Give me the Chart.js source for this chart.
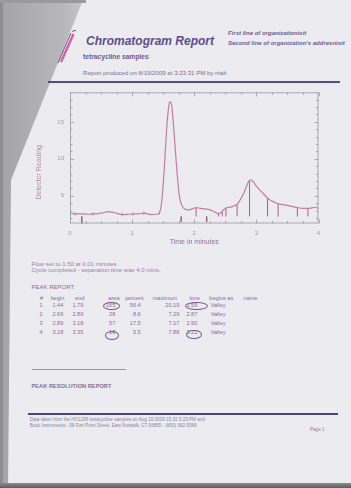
<!DOCTYPE html>
<html>
<head>
<meta charset="utf-8">
<script src="https://cdn.jsdelivr.net/npm/chart.js@4/dist/chart.umd.min.js"></script>
<style>
  html, body { margin: 0; padding: 0; }
  body { width: 351px; height: 488px; overflow: hidden; background: #ecebef; font-family: "Liberation Sans", Arial, sans-serif; }
  #page { position: relative; width: 351px; height: 488px; }
  #chartBox { position: absolute; left: 0; top: 0; width: 351px; height: 488px; }
  .t { position: absolute; white-space: nowrap; line-height: 1; transform: translate(0, -50%); }
  .r { transform: translate(-100%, -50%); }
  .ring { position: absolute; border: 1px solid #7a5c90; border-radius: 50%; box-sizing: border-box; }
  .tbl { font-size: 5.6px; color: #8a6c9c; }
</style>
</head>
<body>
<div id="page">
  <svg width="351" height="488" style="position:absolute;left:0;top:0">
    <defs>
      <linearGradient id="fold" x1="0" y1="0" x2="1" y2="0">
        <stop offset="0" stop-color="#a4a4a6"/>
        <stop offset="0.8" stop-color="#b9b9bb"/>
        <stop offset="1" stop-color="#c6c6c8"/>
      </linearGradient>
    </defs>
    <polygon points="0,0 83,0 11,180 8,488 0,488" fill="url(#fold)"/>
    <rect x="0" y="0" width="3" height="488" fill="#8e8e90"/>
    <rect x="0" y="0" width="86" height="3" fill="#9a9a9c"/>
    <!-- logo: test tube -->
    <line x1="58" y1="63" x2="71" y2="33" stroke="#6a4c9a" stroke-width="1"/>
    <line x1="61" y1="62" x2="73.5" y2="34" stroke="#d2609c" stroke-width="2.4"/>
    <path d="M72 32 q2 -3 4 -1" stroke="#6a4c9a" stroke-width="1" fill="none"/>
  </svg>

  <div class="t" style="left:86px;top:40.5px;font-size:12px;font-weight:bold;font-style:italic;color:#5b4e8e">Chromatogram Report</div>
  <div class="t" style="left:228px;top:32.5px;font-size:6px;font-weight:bold;font-style:italic;color:#6c5c98">First line of organizationisit</div>
  <div class="t" style="left:228px;top:43.3px;font-size:6px;font-weight:bold;font-style:italic;color:#6c5c98">Second line of organization's addresnisit</div>
  <div class="t" style="left:83px;top:57.3px;font-size:6.7px;font-weight:bold;color:#6a5b8c">tetracycline samples</div>
  <div class="t" style="left:83px;top:73.3px;font-size:6.1px;color:#7d6e98">Report produced on 8/19/2009 at 3:23:31 PM by nialt</div>
  <div style="position:absolute;left:48px;top:81px;width:292px;height:2px;background:#4f4d88"></div>

  <div class="t" style="left:31.5px;top:264.3px;font-size:6px;color:#a27cb0">Flow set to 1.50 at 0.01 minutes</div>
  <div class="t" style="left:31.5px;top:270.4px;font-size:6px;color:#a27cb0">Cycle completed - separation time was 4.0 mins.</div>
  <div class="t" style="left:31.5px;top:287.3px;font-size:6px;color:#8d6c9d">PEAK REPORT</div>

  <div id="peakTable"></div>

  <div class="ring" style="left:102.7px;top:301.7px;width:17.3px;height:8.7px"></div>
  <div class="ring" style="left:185px;top:301.7px;width:23.3px;height:8.5px"></div>
  <div class="ring" style="left:105px;top:331px;width:14.3px;height:9px"></div>
  <div class="ring" style="left:185.7px;top:330px;width:16px;height:9.3px"></div>

  <div style="position:absolute;left:32px;top:369px;width:94px;height:1px;background:#9a98a0"></div>
  <div class="t" style="left:31.5px;top:387.3px;font-size:5.7px;font-weight:bold;color:#86709a">PEAK RESOLUTION REPORT</div>
  <div style="position:absolute;left:28px;top:413px;width:310px;height:2px;background:#4b4280"></div>
  <div class="t" style="left:29.7px;top:420px;font-size:4.6px;color:#8d86a0">Data taken from the HO1/2M tetracycline samples on Aug 19 2009 15:32 3:23 PM and</div>
  <div class="t" style="left:29.7px;top:426px;font-size:4.6px;color:#8d86a0">Buck Instruments - 58 Fort Point Street, East Norwalk, CT 06855 - (800) 562-5566</div>
  <div class="t" style="left:310px;top:429.5px;font-size:4.6px;color:#8d86a0">Page 1</div>

  <div style="position:absolute;left:0;top:483px;width:351px;height:5px;background:linear-gradient(#8c8c8e,#5c5c5e)"></div>

  <div id="chartBox"><canvas id="chromatogram"></canvas></div>
</div>

<script>
// Detector trace: retention time (minutes) and detector reading
const timeMin = [
  0.00, 0.10, 0.20, 0.30, 0.40, 0.50, 0.62, 0.72, 0.85, 0.95,
  1.05, 1.15, 1.20, 1.30, 1.40, 1.44, 1.48, 1.52, 1.56, 1.60,
  1.62, 1.64, 1.68, 1.72, 1.76, 1.80, 1.85, 1.90, 1.95, 2.03,
  2.10, 2.20, 2.30, 2.38, 2.43, 2.50, 2.60, 2.70, 2.80, 2.90,
  2.95, 3.00, 3.10, 3.20, 3.30, 3.36, 3.50, 3.66, 3.75, 3.83,
  3.95, 4.00
];
const detectorReading = [
  2.60, 2.55, 2.55, 2.50, 2.55, 2.65, 2.85, 2.70, 2.45, 2.50,
  2.55, 2.60, 2.65, 2.45, 2.50, 2.70, 4.50, 9.00, 14.5, 17.6,
  17.7, 17.0, 13.0, 8.50, 5.00, 3.70, 3.20, 3.10, 3.15, 3.40,
  3.30, 3.20, 2.95, 2.60, 2.75, 3.30, 3.50, 3.95, 5.40, 7.15,
  6.90, 6.30, 5.40, 4.55, 4.10, 3.90, 3.70, 3.40, 3.30, 3.30,
  3.45, 3.20
];

// Axis tick labels
const xTickValues = [0, 1, 2, 3, 4];
const yTickValues = [5, 10, 15];

// Integration marks
const peakMarkTimes = [2.03, 2.39, 2.45, 2.51, 2.69, 2.89, 3.18, 3.35, 3.66, 3.83];
const eventMarkTimes = [0.19, 1.79, 2.20];
const eventMarkLows = [1.20, 1.50, 1.45];
const curveTickTimes = [0.08, 0.37, 0.84, 1.01, 1.19, 1.44];
const markBase = 2.2;

// Peak report rows
const peakNo = ['1', '2', '3', '4'];
const peakBegin = ['1.44', '2.69', '2.89', '3.18'];
const peakEnd = ['1.79', '2.89', '3.18', '3.35'];
const peakArea = ['165', '28', '57', '18'];
const peakPercent = ['56.4', '8.6', '17.5', '5.5'];
const peakMaximum = ['20.19', '7.29', '7.17', '7.88'];
const peakTime = ['1.59', '2.87', '2.90', '3.22'];
const peakBeginsAs = ['Valley', 'Valley', 'Valley', 'Valley'];

(function buildTable() {
  const box = document.getElementById('peakTable');
  const put = (x, y, txt, right) => {
    const d = document.createElement('div');
    d.className = 't tbl' + (right ? ' r' : '');
    d.style.left = x + 'px';
    d.style.top = y + 'px';
    d.textContent = txt;
    box.appendChild(d);
  };
  const hy = 298.5;
  put(40, hy, '#'); put(50.7, hy, 'begin'); put(75, hy, 'end'); put(108.3, hy, 'area');
  put(125, hy, 'percent'); put(152.7, hy, 'maximum'); put(189.3, hy, 'time');
  put(209.3, hy, 'begins as'); put(243.3, hy, 'name');
  const rowY = [306.2, 315.2, 324.1, 333.0];
  rowY.forEach((y, i) => {
    put(42.7, y, peakNo[i], true);
    put(63.3, y, peakBegin[i], true);
    put(83.3, y, peakEnd[i], true);
    put(115.3, y, peakArea[i], true);
    put(140.7, y, peakPercent[i], true);
    put(179.3, y, peakMaximum[i], true);
    put(197.3, y, peakTime[i], true);
    put(210.7, y, peakBeginsAs[i]);
  });
})();

function readingAt(t) {
  for (let i = 1; i < timeMin.length; i++) {
    if (t <= timeMin[i]) {
      const f = (t - timeMin[i - 1]) / (timeMin[i] - timeMin[i - 1]);
      return detectorReading[i - 1] + f * (detectorReading[i] - detectorReading[i - 1]);
    }
  }
  return detectorReading[detectorReading.length - 1];
}

const traceData = timeMin.map((x, i) => ({ x, y: detectorReading[i] }));
const peakMarkData = peakMarkTimes.flatMap(t => [{ x: t, y: markBase }, { x: t, y: readingAt(t) }, { x: t, y: null }]);
const eventMarkData = eventMarkTimes.flatMap((t, i) => [{ x: t, y: markBase }, { x: t, y: eventMarkLows[i] }, { x: t, y: null }]);
const curveTickData = curveTickTimes.flatMap(t => [{ x: t, y: readingAt(t) - 0.25 }, { x: t, y: readingAt(t) + 0.25 }, { x: t, y: null }]);

// Boxed frame with inward ticks on all four sides, plus axis titles
const framePlugin = {
  id: 'frame',
  afterDraw(chart) {
    const { ctx, chartArea: a, scales: { x, y } } = chart;
    ctx.save();
    ctx.strokeStyle = '#a9a7ae';
    ctx.lineWidth = 1;
    ctx.strokeRect(a.left + 0.5, a.top + 0.5, a.right - a.left - 1, a.bottom - a.top - 1);
    const seg = (x1, y1, x2, y2) => { ctx.beginPath(); ctx.moveTo(x1, y1); ctx.lineTo(x2, y2); ctx.stroke(); };
    for (let v = x.min; v <= x.max + 1e-6; v += 0.25) {
      const px = Math.round(x.getPixelForValue(v)) + 0.5;
      const len = Math.abs(v - Math.round(v)) < 1e-6 ? 4 : 2.5;
      seg(px, a.bottom, px, a.bottom - len);
      seg(px, a.top, px, a.top + len);
    }
    for (let v = Math.ceil(y.min); v <= y.max + 1e-6; v += 1) {
      const py = Math.round(y.getPixelForValue(v)) + 0.5;
      const len = v % 5 === 0 ? 4 : 2.5;
      seg(a.left, py, a.left + len, py);
      seg(a.right, py, a.right - len, py);
    }
    ctx.font = '7px "Liberation Sans", Arial, sans-serif';
    ctx.textAlign = 'center';
    ctx.textBaseline = 'middle';
    ctx.fillStyle = '#8f6fa5';
    ctx.fillText('Time in minutes', (a.left + a.right) / 2, a.bottom + 18.2);
    ctx.translate(a.left - 31, a.top + 80);
    ctx.rotate(-Math.PI / 2);
    ctx.fillStyle = '#b58ab0';
    ctx.fillText('Detector Reading', 0, 0);
    ctx.restore();
  }
};

new Chart(document.getElementById('chromatogram'), {
  type: 'line',
  data: {
    datasets: [
      { data: traceData, borderColor: '#c47d9f', borderWidth: 1.2, pointRadius: 0, cubicInterpolationMode: 'monotone', fill: false },
      { data: peakMarkData, borderColor: '#a85e8c', borderWidth: 1, pointRadius: 0, tension: 0, spanGaps: false },
      { data: eventMarkData, borderColor: '#a85e8c', borderWidth: 1, pointRadius: 0, tension: 0, spanGaps: false },
      { data: curveTickData, borderColor: '#a88fa8', borderWidth: 0.8, pointRadius: 0, tension: 0, spanGaps: false }
    ]
  },
  options: {
    responsive: true,
    maintainAspectRatio: false,
    animation: false,
    events: [],
    layout: { padding: { left: 0, top: 92.3, right: 32.5, bottom: 244.5 } },
    plugins: { legend: { display: false }, tooltip: { enabled: false } },
    scales: {
      x: {
        type: 'linear', min: 0, max: 4,
        grid: { display: false, drawTicks: false },
        border: { display: false },
        afterBuildTicks: s => { s.ticks = xTickValues.map(v => ({ value: v })); },
        afterFit: s => { s.height = 20; },
        ticks: { padding: 6, color: '#9d9aa3', font: { size: 6, family: '"Liberation Sans", Arial, sans-serif' }, maxRotation: 0 }
      },
      y: {
        type: 'linear', min: 1.25, max: 19.0,
        grid: { display: false, drawTicks: false },
        border: { display: false },
        afterBuildTicks: s => { s.ticks = yTickValues.map(v => ({ value: v })); },
        afterFit: s => { s.width = 70; },
        ticks: { padding: 6, color: '#9d9aa3', font: { size: 6, family: '"Liberation Sans", Arial, sans-serif' } }
      }
    }
  },
  plugins: [framePlugin]
});
</script>
</body>
</html>
